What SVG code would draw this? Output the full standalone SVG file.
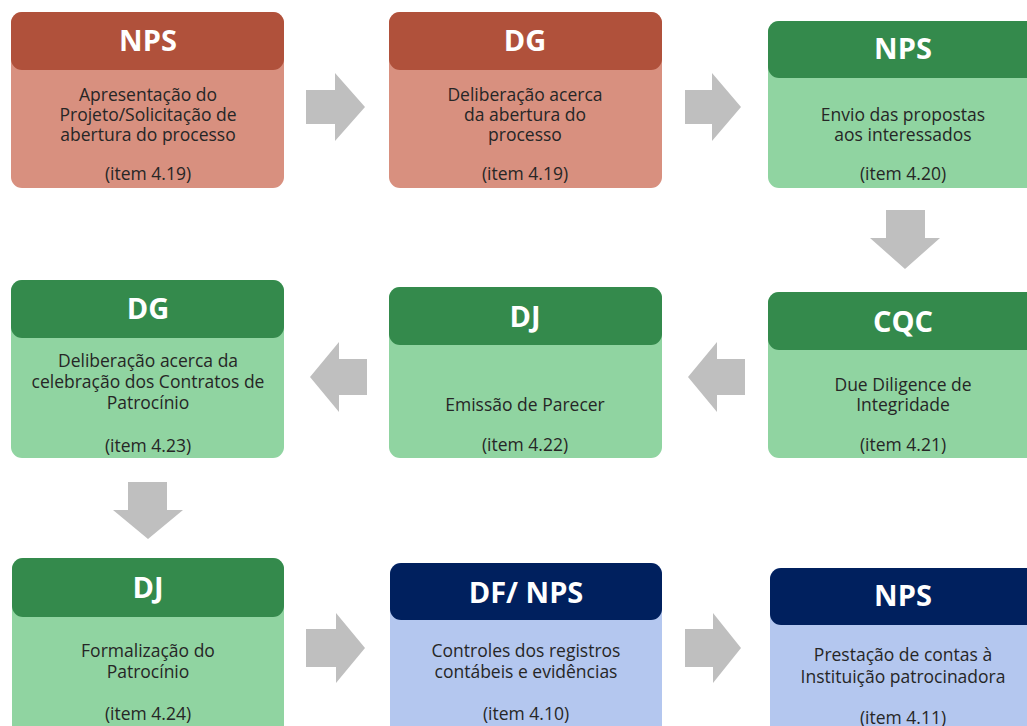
<svg xmlns="http://www.w3.org/2000/svg" width="1027" height="726" viewBox="0 0 1027 726">
<defs>
<style>
.red .bd{fill:#D8907F}.red .hd{fill:#B0513B}
.grn .bd{fill:#90D4A1}.grn .hd{fill:#348A4C}
.blu .bd{fill:#B4C7EF}.blu .hd{fill:#00205E}
.ht{font-family:"Open Sans","Noto Sans",sans-serif;font-weight:bold;font-size:29px;fill:#fff;text-anchor:middle}
.bt{font-family:"Open Sans","Noto Sans",sans-serif;font-size:17.5px;fill:#262626;text-anchor:middle}
.arr{fill:#BFBFBF}
</style>
</defs>
<rect width="1027" height="726" fill="#fff"/>
<g id="connectors">
<path class="arr" d="M306,90 H335 V73 L365,107 L335,141 V124 H306 Z"/>
<path class="arr" d="M685,90 H712 V73 L741,107 L712,141 V124 H685 Z"/>
<path class="arr" d="M886,210 H925 V238 H940 L905,269 L870,238 H886 Z"/>
<path class="arr" d="M745,359 H717 V342 L688,377 L717,412 V395 H745 Z"/>
<path class="arr" d="M367,359 H339 V342 L310,377 L339,412 V395 H367 Z"/>
<path class="arr" d="M128,482 H167 V510 H183 L148,539 L113,510 H128 Z"/>
<path class="arr" d="M306,629 H336 V613 L365,648 L336,683 V667 H306 Z"/>
<path class="arr" d="M685,629 H713 V613 L741,648 L713,683 V667 H685 Z"/>
</g>
<g id="n1" class="red">
<rect class="bd" x="11" y="12" width="273" height="176" rx="11"/>
<rect class="hd" x="11" y="12" width="273" height="58" rx="11"/>
<text class="ht" x="148" y="51">NPS</text>
<text class="bt" x="148" y="101">Apresentação do</text>
<text class="bt" x="148" y="121">Projeto/Solicitação de</text>
<text class="bt" x="148" y="141">abertura do processo</text>
<text class="bt" x="148" y="180">(item 4.19)</text>
</g>
<g id="n2" class="red">
<rect class="bd" x="389" y="12" width="273" height="176" rx="11"/>
<rect class="hd" x="389" y="12" width="273" height="58" rx="11"/>
<text class="ht" x="525" y="51">DG</text>
<text class="bt" x="525" y="101">Deliberação acerca</text>
<text class="bt" x="525" y="121">da abertura do</text>
<text class="bt" x="525" y="141">processo</text>
<text class="bt" x="525" y="180">(item 4.19)</text>
</g>
<g id="n3" class="grn">
<rect class="bd" x="768" y="21" width="273" height="167" rx="11"/>
<rect class="hd" x="768" y="21" width="273" height="57" rx="11"/>
<text class="ht" x="903" y="59">NPS</text>
<text class="bt" x="903" y="121">Envio das propostas</text>
<text class="bt" x="903" y="141">aos interessados</text>
<text class="bt" x="903" y="180">(item 4.20)</text>
</g>
<g id="n4" class="grn">
<rect class="bd" x="768" y="292" width="273" height="166" rx="11"/>
<rect class="hd" x="768" y="292" width="273" height="58" rx="11"/>
<text class="ht" x="903" y="332">CQC</text>
<text class="bt" x="903" y="391">Due Diligence de</text>
<text class="bt" x="903" y="411">Integridade</text>
<text class="bt" x="903" y="451">(item 4.21)</text>
</g>
<g id="n5" class="grn">
<rect class="bd" x="389" y="287" width="273" height="171" rx="11"/>
<rect class="hd" x="389" y="287" width="273" height="58" rx="11"/>
<text class="ht" x="525" y="327">DJ</text>
<text class="bt" x="525" y="411">Emissão de Parecer</text>
<text class="bt" x="525" y="451">(item 4.22)</text>
</g>
<g id="n6" class="grn">
<rect class="bd" x="11" y="280" width="273" height="178" rx="11"/>
<rect class="hd" x="11" y="280" width="273" height="58" rx="11"/>
<text class="ht" x="148" y="319">DG</text>
<text class="bt" x="148" y="367">Deliberação acerca da</text>
<text class="bt" x="148" y="388">celebração dos Contratos de</text>
<text class="bt" x="148" y="409">Patrocínio</text>
<text class="bt" x="148" y="452">(item 4.23)</text>
</g>
<g id="n7" class="grn">
<rect class="bd" x="12" y="558" width="272" height="180" rx="11"/>
<rect class="hd" x="12" y="558" width="272" height="59" rx="11"/>
<text class="ht" x="148" y="598">DJ</text>
<text class="bt" x="148" y="657">Formalização do</text>
<text class="bt" x="148" y="678">Patrocínio</text>
<text class="bt" x="148" y="720">(item 4.24)</text>
</g>
<g id="n8" class="blu">
<rect class="bd" x="390" y="563" width="272" height="175" rx="11"/>
<rect class="hd" x="390" y="563" width="272" height="57" rx="11"/>
<text class="ht" x="526" y="603">DF/ NPS</text>
<text class="bt" x="526" y="657">Controles dos registros</text>
<text class="bt" x="526" y="678">contábeis e evidências</text>
<text class="bt" x="526" y="720">(item 4.10)</text>
</g>
<g id="n9" class="blu">
<rect class="bd" x="770" y="568" width="273" height="170" rx="11"/>
<rect class="hd" x="770" y="568" width="273" height="57" rx="11"/>
<text class="ht" x="903" y="606">NPS</text>
<text class="bt" x="903" y="661">Prestação de contas à</text>
<text class="bt" x="903" y="683">Instituição patrocinadora</text>
<text class="bt" x="903" y="724">(item 4.11)</text>
</g>
</svg>
